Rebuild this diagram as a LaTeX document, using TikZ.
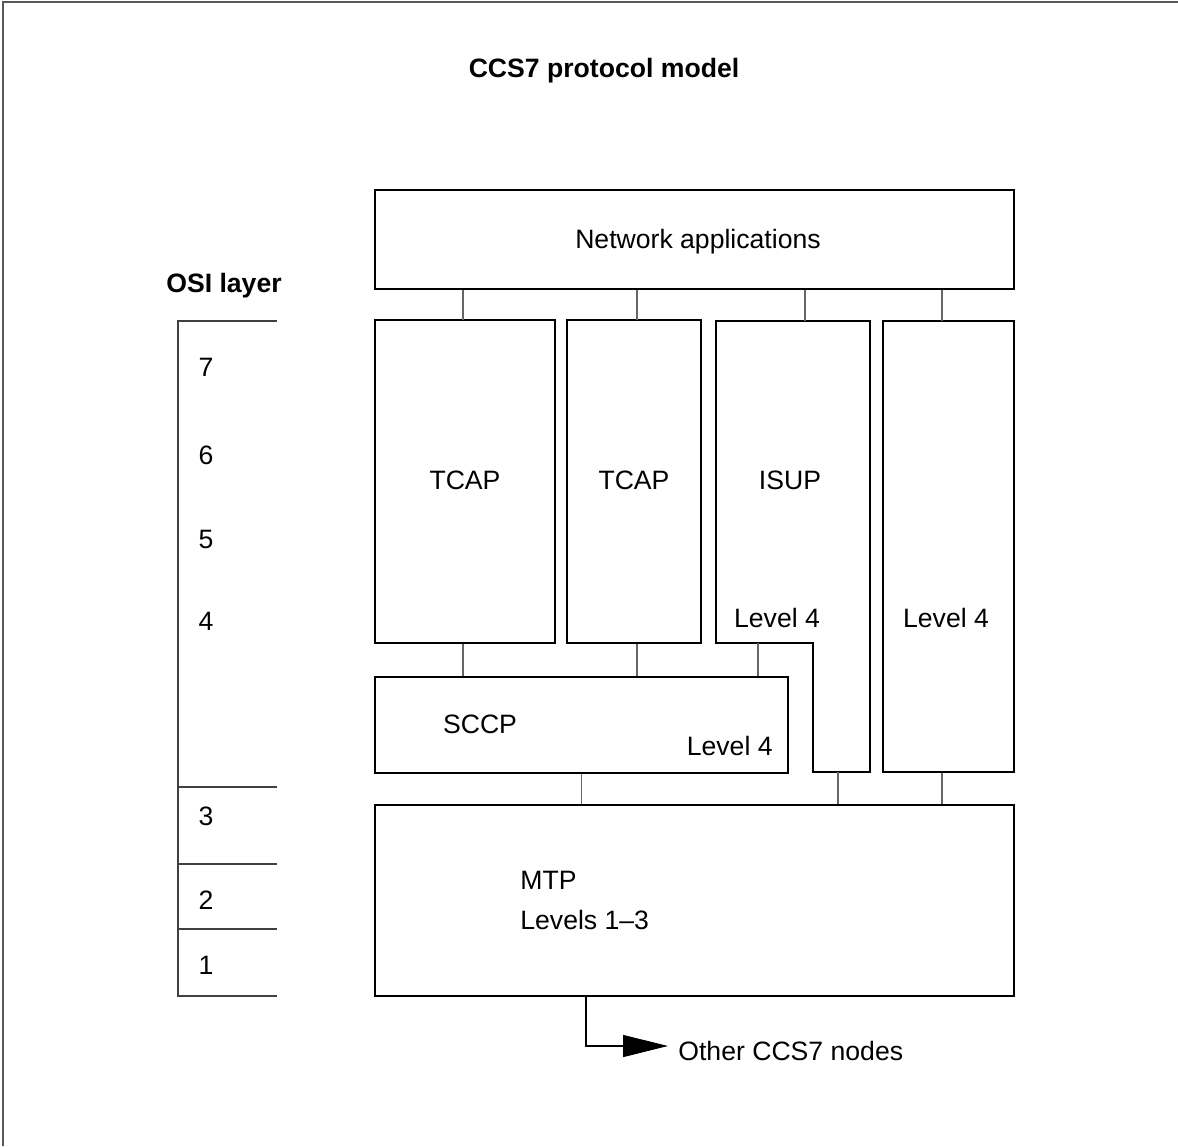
\documentclass[tikz,border=0pt]{standalone}
\usepackage{fontspec}
\setmainfont{Liberation Sans}
\usetikzlibrary{fit,arrows.meta}

\tikzset{
	box/.style={draw, line width=1pt, inner sep=0pt},
	link/.style={draw=black!60, line width=0.6pt},
	txt/.style={inner sep=0pt, text height=9.5pt, text depth=0pt, font=\fontsize{13.3}{16}\selectfont},
	ttl/.style={txt, font=\fontsize{13.3}{16}\selectfont\bfseries},
	frm/.style={draw=black!65, line width=1pt}
}

\begin{document}
\begin{tikzpicture}[x=0.5pt, y=-0.5pt]
		\useasboundingbox (0,0) rectangle (1178,1146);
		\draw[frm] (3,1146) -- (3,2) -- (1178,2);
		\node[ttl] (title) at (604,68) {CCS7 protocol model};

		% protocol blocks
		\node[box, fit={(375,190) (1014,289)}] (apps) {};
		\node[box, fit={(375,320) (555,643)}] (tcapa) {};
		\node[box, fit={(567,320) (701,643)}] (tcapb) {};
		\node[box, fit={(883,321) (1014,772)}] (lvl) {};
		\node[box, fit={(375,677) (788,773)}] (sccp) {};
		\node[box, fit={(375,805) (1014,996)}] (mtp) {};
		\draw[line width=1pt] (716,321) -- (870,321) -- (870,772) -- (813,772)
		-- (813,643) -- (716,643) -- cycle;
		\coordinate (tcapalink) at (463,320);
		\coordinate (tcapblink) at (637,320);
		\coordinate (isuptop) at (805,321);
		\coordinate (isupfoot) at (758,643);
		\coordinate (isuptail) at (838,772);
		\coordinate (lvllink) at (942,321);

		\node[txt] (appslbl) at (698,239) {Network applications};
		\node[txt] (tcapalbl) at (465,480) {TCAP};
		\node[txt] (tcapblbl) at (634,480) {TCAP};
		\node[txt] (isuplbl) at (790,480) {ISUP};
		\node[txt] (isuplvl) at (777,618) {Level 4};
		\node[txt] (lvllbl) at (946,618) {Level 4};
		\node[txt] (sccplbl) at (480,724) {SCCP};
		\node[txt, anchor=east] (sccplvl) at (773,746) {Level 4};
		\node[txt, anchor=west] (mtplbl) at (520,880) {MTP};
		\node[txt, anchor=west] (mtplvl) at (520,920) {Levels 1--3};

		% links between the blocks
		\draw[link] (tcapalink) -- (tcapalink |- apps.south);
		\draw[link] (tcapblink) -- (tcapblink |- apps.south);
		\draw[link] (isuptop) -- (isuptop |- apps.south);
		\draw[link] (lvllink) -- (lvllink |- apps.south);
		\draw[link] (tcapa.south -| tcapalink) -- (tcapalink |- sccp.north);
		\draw[link] (tcapb.south -| tcapblink) -- (tcapblink |- sccp.north);
		\draw[link] (isupfoot) -- (isupfoot |- sccp.north);
		\draw[link] (sccp.south) -- (sccp.south |- mtp.north);
		\draw[link] (isuptail) -- (isuptail |- mtp.north);
		\draw[link] (lvl.south -| lvllink) -- (lvllink |- mtp.north);

		\node[txt, anchor=west] (other) at (678,1051) {Other CCS7 nodes};
		\coordinate (bend) at (586,1046);
		\coordinate (tip) at (668,1046);
		\draw[link, draw=black, -{Triangle[length=22.5pt, width=11pt]}] (mtp.south -| bend) |- (tip);

		% OSI layers
		\node[ttl] (osi) at (224,283) {OSI layer};
		\draw[link, draw=black!75] (277,321) -- (178,321) -- (178,996) -- (277,996);
		\foreach \y in {787,864,929}
			\draw[link, draw=black!75] (178,\y) -- (277,\y);
		\foreach \n/\y in {7/367,6/455,5/539,4/621,3/816,2/900,1/965}
			\node[txt] (layer\n) at (206,\y) {\n};
	\end{tikzpicture}
\end{document}
